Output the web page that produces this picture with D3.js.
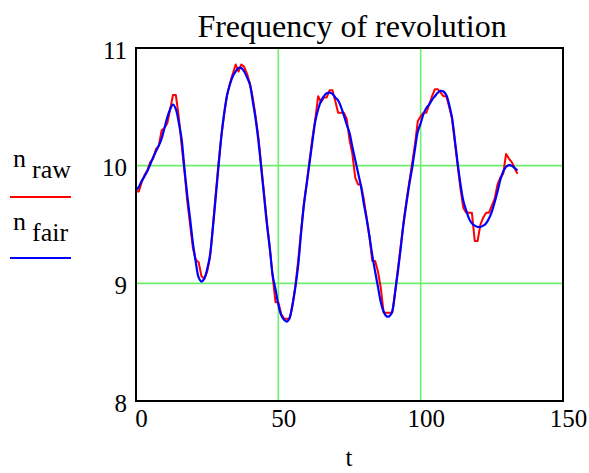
<!DOCTYPE html>
<html>
<head>
<meta charset="utf-8">
<script src="https://cdn.jsdelivr.net/npm/d3@7"></script>
<style>
  html, body { margin: 0; padding: 0; background: #fff; }
  svg { display: block; }
</style>
</head>
<body>
<svg id="chart" width="589" height="473"></svg>
<script>
// Measured revolution frequency (raw samples) and its smoothed fit, one value per unit of t
const nRaw = [
  9.78, 9.78, 9.86, 9.92, 9.96, 10.03, 10.06, 10.14, 10.17, 10.30,
  10.32, 10.36, 10.48, 10.60, 10.60, 10.42, 10.18, 9.96, 9.70, 9.50,
  9.30, 9.20, 9.18, 9.06, 9.04, 9.10, 9.22, 9.48, 9.76, 10.02,
  10.26, 10.44, 10.60, 10.70, 10.78, 10.86, 10.80, 10.86, 10.84, 10.78,
  10.70, 10.58, 10.42, 10.24, 10.00, 9.76, 9.52, 9.30, 9.06, 8.84,
  8.84, 8.74, 8.70, 8.70, 8.70, 8.82, 8.98, 9.20, 9.45, 9.68,
  9.86, 10.05, 10.24, 10.40, 10.59, 10.54, 10.58, 10.58, 10.64, 10.64,
  10.55, 10.45, 10.45, 10.45, 10.40, 10.22, 10.10, 9.90, 9.84, 9.84,
  9.72, 9.56, 9.40, 9.19, 9.19, 9.10, 8.96, 8.75, 8.75, 8.75,
  8.75, 8.92, 9.12, 9.32, 9.52, 9.70, 9.86, 10.02, 10.18, 10.38,
  10.42, 10.45, 10.45, 10.52, 10.59, 10.65, 10.65, 10.62, 10.59, 10.59,
  10.50, 10.40, 10.20, 10.00, 9.80, 9.64, 9.60, 9.60, 9.60, 9.36,
  9.36, 9.50, 9.56, 9.60, 9.60, 9.66, 9.72, 9.84, 9.90, 9.93,
  10.10, 10.06, 10.03, 9.98, 9.93
];
const nFair = [
  9.79, 9.82, 9.87, 9.91, 9.955, 10.01, 10.07, 10.12, 10.17, 10.23,
  10.32, 10.41, 10.48, 10.52, 10.48, 10.37, 10.23, 9.98, 9.75, 9.55,
  9.34, 9.18, 9.05, 9.015, 9.04, 9.12, 9.24, 9.47, 9.73, 10.00,
  10.25, 10.45, 10.60, 10.69, 10.76, 10.80, 10.83, 10.83, 10.80, 10.75,
  10.69, 10.55, 10.40, 10.21, 9.98, 9.74, 9.50, 9.30, 9.07, 8.95,
  8.82, 8.73, 8.69, 8.675, 8.71, 8.82, 8.97, 9.16, 9.43, 9.67,
  9.85, 10.03, 10.21, 10.38, 10.48, 10.55, 10.59, 10.615, 10.62, 10.61,
  10.58, 10.555, 10.50, 10.43, 10.35, 10.28, 10.16, 10.05, 9.94, 9.83,
  9.68, 9.55, 9.40, 9.24, 9.10, 8.97, 8.84, 8.76, 8.72, 8.72,
  8.76, 8.92, 9.10, 9.30, 9.51, 9.68, 9.84, 9.98, 10.14, 10.29,
  10.36, 10.44, 10.49, 10.52, 10.56, 10.59, 10.62, 10.635, 10.63, 10.60,
  10.52, 10.41, 10.22, 10.02, 9.84, 9.70, 9.62, 9.55, 9.51, 9.49,
  9.48, 9.48, 9.49, 9.51, 9.55, 9.61, 9.69, 9.78, 9.88, 9.95,
  9.99, 10.005, 10.00, 9.98, 9.96
];
const xTicks = [0, 50, 100, 150];
const yTicks = [8, 9, 10, 11];
const xGrid = [50, 100];
const yGrid = [9, 10];
const seriesNames = [["n", "raw"], ["n", "fair"]];
const seriesColors = ["#ff0000", "#0000ff"];

const FONT = '"Liberation Serif", serif';
const svg = d3.select("#chart");
const plotLeft = 136, plotRight = 563, plotTop = 48, plotBottom = 401;

const x = d3.scaleLinear().domain([0, 150]).range([plotLeft, plotRight]);
const y = d3.scaleLinear().domain([8, 11]).range([plotBottom, plotTop]);

// green grid lines
const grid = svg.append("g");
grid.selectAll("line.gx").data(xGrid).join("line")
  .attr("x1", d => x(d)).attr("x2", d => x(d))
  .attr("y1", plotTop).attr("y2", plotBottom)
  .attr("stroke", "#6ef06e").attr("stroke-width", 1.6);
grid.selectAll("line.gy").data(yGrid).join("line")
  .attr("x1", plotLeft).attr("x2", plotRight)
  .attr("y1", d => y(d)).attr("y2", d => y(d))
  .attr("stroke", "#6ef06e").attr("stroke-width", 1.6);

// series
const line = d3.line().x((d, i) => x(i)).y(d => y(d));
svg.append("path").datum(nRaw).attr("d", line)
  .attr("fill", "none").attr("stroke", seriesColors[0]).attr("stroke-width", 2)
  .attr("stroke-linejoin", "round");
svg.append("path").datum(nFair).attr("d", line.curve(d3.curveCatmullRom))
  .attr("fill", "none").attr("stroke", seriesColors[1]).attr("stroke-width", 2.2)
  .attr("stroke-linejoin", "round");

// frame
svg.append("rect").attr("x", plotLeft).attr("y", plotTop)
  .attr("width", plotRight - plotLeft).attr("height", plotBottom - plotTop)
  .attr("fill", "none").attr("stroke", "#000").attr("stroke-width", 2);

// axes
const xAxis = svg.append("g").attr("transform", `translate(0,${plotBottom})`)
  .call(d3.axisBottom(x).tickValues(xTicks).tickSize(0).tickFormat(d3.format("d")));
xAxis.select(".domain").remove();
xAxis.selectAll("text").attr("y", 26).attr("dy", 0).attr("dx", 5)
  .attr("fill", "#000").style("font-family", FONT).style("font-size", "25px");

const yAxis = svg.append("g").attr("transform", `translate(${plotLeft},0)`)
  .call(d3.axisLeft(y).tickValues(yTicks).tickSize(0).tickFormat(d3.format("d")));
yAxis.select(".domain").remove();
yAxis.selectAll("text").attr("x", -9).attr("dy", "0.4em")
  .attr("fill", "#000").style("font-family", FONT).style("font-size", "25px");

// axis title and chart title
svg.append("text").attr("x", 349).attr("y", 466).attr("text-anchor", "middle")
  .style("font-family", FONT).style("font-size", "25px").text("t");
svg.append("text").attr("x", 352).attr("y", 37).attr("text-anchor", "middle")
  .style("font-family", FONT).style("font-size", "32px").text("Frequency of revolution");

// legend
const legendRows = [{ yText: 167, yLine: 197 }, { yText: 230, yLine: 258 }];
legendRows.forEach((r, i) => {
  const label = svg.append("text").attr("x", 13).attr("y", r.yText)
    .style("font-family", FONT).style("font-size", "26px");
  label.append("tspan").text(seriesNames[i][0]);
  label.append("tspan").attr("dx", 6).attr("dy", 11).text(seriesNames[i][1]);
  svg.append("line").attr("x1", 10).attr("x2", 71).attr("y1", r.yLine).attr("y2", r.yLine)
    .attr("stroke", seriesColors[i]).attr("stroke-width", 2);
});
</script>
</body>
</html>
